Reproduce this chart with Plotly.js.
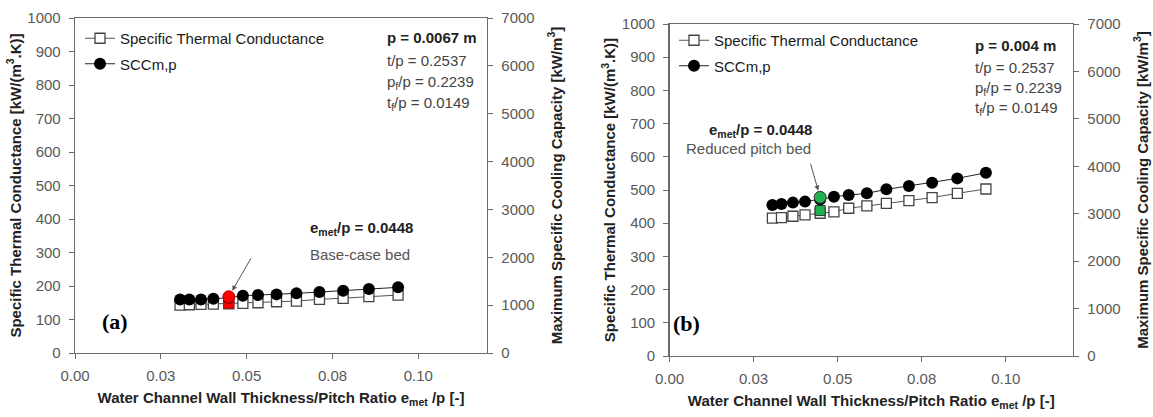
<!DOCTYPE html>
<html>
<head>
<meta charset="utf-8">
<script src="https://cdn.plot.ly/plotly-3.0.1.min.js"></script>
<style>html,body{margin:0;padding:0;background:#fff}#chart{width:1153px;height:417px}</style>
</head>
<body>
<div id="chart"></div>
<script>
// ---- data ----
const ratio = [0.0306, 0.0333, 0.0367, 0.0403, 0.0448, 0.0489, 0.0533, 0.0587, 0.0645, 0.0712, 0.0781, 0.0856, 0.0941];
// panel (a) p = 0.0067 m
const stcA = [143, 144, 145, 146, 147, 148, 150, 153, 155, 160, 163, 168, 173];      // kW/(m3.K)
const sccA = [1120, 1120, 1120, 1134, 1155, 1197, 1211, 1225, 1246, 1274, 1302, 1337, 1372]; // kW/m3
// panel (b) p = 0.004 m
const stcB = [415, 417, 421, 425, 430, 434, 445, 452, 460, 468, 477, 490, 503];
const sccB = [3185, 3206, 3234, 3255, 3300, 3360, 3395, 3430, 3514, 3584, 3654, 3745, 3864];
// highlighted design points
const baseX = [0.0448];
const baseStc = [149];
const baseScc = [1176];
const redX = [0.0448];
const redStc = [438];
const redScc = [3346];
// ticks
const xTickVals = [0, 0.025, 0.05, 0.075, 0.1];
const xTickText = ["0.00", "0.03", "0.05", "0.08", "0.10"];
const seriesNames = ["Specific Thermal Conductance", "SCCm,p"];

// ---- styling helpers ----
const W = 1153, H = 417;
const px = v => v / W;
const py = v => 1 - v / H;
const FONT = "Liberation Sans, Arial, sans-serif";
const TICKC = "#595959";
const AXC = "#6b6b6b";

const sqLine = {color: "#555", width: 1};
const ciMarker = {symbol: "circle", size: 12, color: "#000"};

function panelTraces(xa, ya, ya2, stc, scc, leg) {
  return [
    {x: ratio, y: stc, xaxis: xa, yaxis: ya, mode: "lines+markers", name: seriesNames[0],
     line: sqLine, marker: {symbol: "square", size: 10, color: "#fff", line: {width: 1.3, color: "#444"}},
     legend: leg, legendgroup: leg + "a"},
    {x: ratio, y: scc, xaxis: xa, yaxis: ya2, mode: "lines+markers", name: seriesNames[1],
     line: {color: "#222", width: 1}, marker: ciMarker, legend: leg, legendgroup: leg + "b"}
  ];
}

const traces = [].concat(
  panelTraces("x", "y", "y2", stcA, sccA, "legend"),
  [
    {x: baseX, y: baseStc, xaxis: "x", yaxis: "y", mode: "markers", showlegend: false,
     marker: {symbol: "square", size: 10, color: "#ff0000", line: {width: 1, color: "#c00"}}},
    {x: baseX, y: baseScc, xaxis: "x", yaxis: "y2", mode: "markers", showlegend: false,
     marker: {symbol: "circle", size: 12, color: "#ff0000", line: {width: 1, color: "#c00"}}}
  ],
  panelTraces("x2", "y3", "y4", stcB, sccB, "legend2"),
  [
    {x: redX, y: redStc, xaxis: "x2", yaxis: "y3", mode: "markers", showlegend: false,
     marker: {symbol: "square", size: 10, color: "#22b052", line: {width: 1, color: "#333"}}},
    {x: redX, y: redScc, xaxis: "x2", yaxis: "y4", mode: "markers", showlegend: false,
     marker: {symbol: "circle", size: 12, color: "#22b052", line: {width: 1, color: "#333"}}}
  ]
);

const tickFont = {family: FONT, size: 15, color: TICKC};
const titleFont = {family: FONT, size: 15, color: "#222", weight: "bold"};

function xAxis(dom, anchor) {
  return {domain: dom, anchor: anchor, range: [0, 0.12], tickvals: xTickVals, ticktext: xTickText,
    showline: true, linecolor: AXC, linewidth: 1.3, mirror: true, ticks: "outside", ticklen: 5, tickcolor: AXC,
    showgrid: false, zeroline: false, tickfont: tickFont, ticklabelstandoff: 4,
    title: {text: "<b>Water Channel Wall Thickness/Pitch Ratio e<sub>met</sub> /p [-]</b>", font: titleFont, standoff: 9}};
}
function yAxis(dom, anchor, range, dtick, title, side, overlay, standoff) {
  const a = {domain: dom, anchor: anchor, range: range, dtick: dtick, side: side,
    showline: true, linecolor: AXC, linewidth: 1.3, ticks: "outside", ticklen: 5, tickcolor: AXC,
    showgrid: false, zeroline: false, tickfont: tickFont, ticklabelstandoff: 5,
    title: {text: title, font: titleFont, standoff: standoff}};
  if (overlay) a.overlaying = overlay;
  return a;
}

const xdA = [px(75), px(487)], ydA = [py(353), py(18)];
const xdB = [px(669.5), px(1073)], ydB = [py(356), py(24)];
const yTitleL = "<b>Specific Thermal Conductance [kW/(m<sup>3</sup>.K)]</b>";
const yTitleR = "<b>Maximum Specific Cooling Capacity [kW/m<sup>3</sup>]</b>";

function params(x0, yRows, pText) {
  const lines = [
    "<b>" + pText + "</b>",
    "t/p = 0.2537",
    "p<sub>f</sub>/p = 0.2239",
    "t<sub>f</sub>/p = 0.0149"
  ];
  return lines.map((t, i) => ({xref: "paper", yref: "paper", x: px(x0), y: py(yRows[i]), xanchor: "left", yanchor: "middle",
    text: t, showarrow: false, font: {family: FONT, size: 15, color: i === 0 ? "#222" : "#444"}}));
}

const annotations = [].concat(
  params(385, [38, 60, 82, 103], "p = 0.0067 m"),
  params(973, [45, 67, 88, 109], "p = 0.004 m"),
  [
    {xref: "paper", yref: "paper", x: px(308), y: py(228), text: "<b>e<sub>met</sub>/p = 0.0448</b>", showarrow: false,
     font: {family: FONT, size: 15, color: "#222"}},
    {xref: "paper", yref: "paper", x: px(308), y: py(254), text: "Base-case bed", showarrow: false,
     font: {family: FONT, size: 15, color: "#555"}},
    {xref: "x", yref: "y2", x: baseX[0], y: baseScc[0], ax: 23, ay: -40, text: "", showarrow: true,
     arrowhead: 2, arrowsize: 1, arrowwidth: 1, arrowcolor: "#555", standoff: 7},
    {xref: "paper", yref: "paper", x: px(814), y: py(119), text: "<b>e<sub>met</sub>/p = 0.0448</b>", showarrow: false,
     font: {family: FONT, size: 15, color: "#222"}},
    {xref: "paper", yref: "paper", x: px(813), y: py(148), text: "Reduced pitch bed", showarrow: false,
     font: {family: FONT, size: 15, color: "#555"}},
    {xref: "x2", yref: "y4", x: redX[0], y: redScc[0], ax: -10, ay: -35, text: "", showarrow: true,
     arrowhead: 2, arrowsize: 1, arrowwidth: 1, arrowcolor: "#555", standoff: 7},
    {xref: "paper", yref: "paper", x: px(100), y: py(336), text: "<b>(a)</b>", showarrow: false,
     font: {family: "Liberation Serif, Times New Roman, serif", size: 22, color: "#000"}},
    {xref: "paper", yref: "paper", x: px(687), y: py(338), text: "<b>(b)</b>", showarrow: false,
     font: {family: "Liberation Serif, Times New Roman, serif", size: 22, color: "#000"}}
  ]
);

const legFont = {family: FONT, size: 15, color: "#1a1a1a"};
const layout = {
  width: W, height: H, autosize: false,
  margin: {l: 0, r: 0, t: 0, b: 0},
  paper_bgcolor: "#fff", plot_bgcolor: "rgba(0,0,0,0)",
  showlegend: true,
  xaxis: xAxis(xdA, "y"),
  yaxis: yAxis(ydA, "x", [0, 1000], 100, yTitleL, "left", null, 2),
  yaxis2: yAxis(ydA, "x", [0, 7000], 1000, yTitleR, "right", "y", 17),
  xaxis2: xAxis(xdB, "y3"),
  yaxis3: yAxis(ydB, "x2", [0, 1000], 100, yTitleL, "left", null, 2),
  yaxis4: yAxis(ydB, "x2", [0, 7000], 1000, yTitleR, "right", "y3", 17),
  legend: {x: px(80), y: py(22), xanchor: "left", yanchor: "top", bgcolor: "rgba(0,0,0,0)", font: legFont,
    traceorder: "grouped", tracegroupgap: 3},
  legend2: {x: px(674), y: py(24), xanchor: "left", yanchor: "top", bgcolor: "rgba(0,0,0,0)", font: legFont,
    traceorder: "grouped", tracegroupgap: 3},
  annotations: annotations
};

Plotly.newPlot("chart", traces, layout, {displayModeBar: false, staticPlot: true});
</script>
</body>
</html>
